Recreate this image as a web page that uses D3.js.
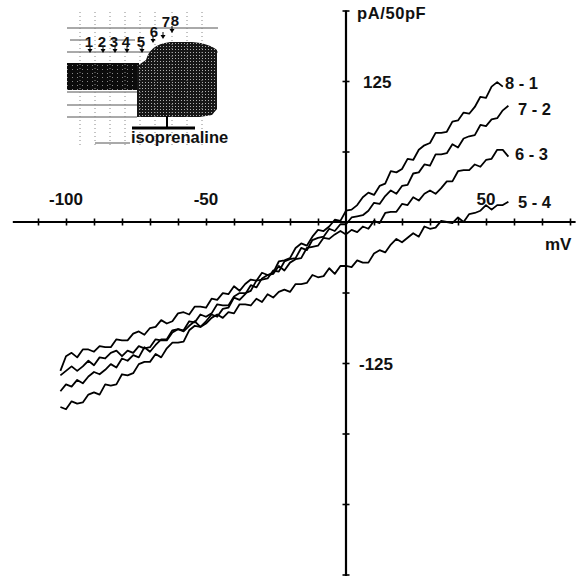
<!DOCTYPE html>
<html><head><meta charset="utf-8">
<script src="https://cdn.jsdelivr.net/npm/d3@7"></script>
<style>
body{margin:0;background:#fff}
svg{display:block}
text{font-family:"Liberation Sans",Arial,Helvetica,sans-serif;font-weight:bold;fill:#111}
</style>
</head><body><div id="chart"></div>
<script>
// ---- data ----
const voltage = [-102,-100,-98,-96,-94,-92,-90,-88,-86,-84,-82,-80,-78,-76,-74,-72,-70,-68,-66,-64,-62,-60,-58,-56,-54,-52,-50,-48,-46,-44,-42,-40,-38,-36,-34,-32,-30,-28,-26,-24,-22,-20,-18,-16,-14,-12,-10,-8,-6,-4,-2,0,2,4,6,8,10,12,14,16,18,20,22,24,26,28,30,32,34,36,38,40,42,44,46,48,50,52,54,56,58];
const trace81 = [-164,-166,-159,-161,-160,-153,-151,-153,-144,-145,-144,-135,-136,-134,-126,-124,-124,-117,-120,-112,-107,-107,-106,-96,-92,-93,-88,-82,-84,-77,-76,-67,-69,-64,-56,-58,-50,-47,-45,-35,-34,-32,-23,-19,-21,-13,-7,-8,-4,2,1,10,11,15,22,26,24,32,34,45,44,47,56,55,64,68,70,79,79,80,89,90,97,96,102,111,110,120,124,120,null];
const trace72 = [-150,-144,-146,-140,-143,-137,-133,-135,-131,-126,-129,-121,-123,-118,-120,-111,-115,-109,-104,-104,-96,-95,-96,-88,-89,-82,-84,-81,-73,-74,-74,-66,-63,-63,-61,-52,-51,-50,-43,-44,-35,-33,-32,-23,-25,-16,-14,-13,-6,-8,-2,-2,4,5,6,10,17,16,23,28,25,32,33,43,44,51,50,60,60,61,69,66,74,76,77,86,85,91,92,99,103];
const trace63 = [-132,-119,-116,-120,-113,-113,-115,-110,-111,-111,-104,-105,-105,-99,-97,-100,-94,-93,-87,-90,-88,-81,-80,-82,-75,-75,-76,-68,-69,-63,-64,-57,-61,-55,-51,-52,-45,-47,-46,-39,-43,-36,-33,-32,-23,-22,-21,-14,-15,-11,-8,-11,-7,-9,-4,-6,1,-1,8,9,9,16,15,22,19,25,28,25,30,36,36,45,46,46,51,49,55,56,64,64,58];
const trace54 = [-136,-132,-128,-132,-128,-123,-127,-120,-121,-116,-114,-119,-114,-116,-110,-112,-111,-104,-105,-105,-98,-95,-97,-92,-88,-93,-90,-85,-82,-85,-80,-81,-73,-73,-74,-68,-71,-64,-67,-62,-60,-62,-55,-55,-54,-47,-49,-48,-41,-46,-39,-39,-40,-34,-36,-36,-28,-25,-27,-20,-15,-18,-14,-10,-13,-4,-6,-5,1,0,-1,4,0,7,8,10,15,11,15,15,18];
const seriesNames = ["8 - 1","7 - 2","6 - 3","5 - 4"];
const xTickValues = [-110,-100,-90,-80,-70,-60,-50,-40,-30,-20,-10,10,20,30,40,50,60,70,80];
const xTickLabels = [-100,-50,50];
const yTickValues = [187.5,125,62.5,-62.5,-125,-187.5,-250,-312.5];
const yTickLabels = [125,-125];
const insetLabels = ["1","2","3","4","5","6","7","8"];
const stimulusLabel = "isoprenaline";
const xTitle = "mV", yTitle = "pA/50pF";

// ---- chart ----
const W = 583, H = 576;
const svg = d3.select("#chart").append("svg").attr("width", W).attr("height", H);
const x = d3.scaleLinear().domain([-120, 80]).range([10, 570]);
const y = d3.scaleLinear().domain([-312.5, 187.5]).range([574.5, 10.5]);

// inset (recording thumbnail)
const defs = svg.append("defs");
const p1 = defs.append("pattern").attr("id","mesh").attr("width",3).attr("height",3).attr("patternUnits","userSpaceOnUse");
p1.append("rect").attr("width",3).attr("height",3).attr("fill","#161616");
p1.append("rect").attr("x",1).attr("y",1).attr("width",1).attr("height",1).attr("fill","#b0b0b0");
const p2 = defs.append("pattern").attr("id","mesh2").attr("width",5).attr("height",4).attr("patternUnits","userSpaceOnUse");
p2.append("rect").attr("width",5).attr("height",4).attr("fill","#0c0c0c");
p2.append("rect").attr("x",2).attr("y",1).attr("width",1).attr("height",1).attr("fill","#888");

const inset = svg.append("g");
const hl = [[28,67,218],[40,70,88],[40,112,135],[52,67,218],[92,67,137],[105,67,137],[117,67,137],[143,95,130]];
hl.forEach(d => inset.append("line").attr("x1",d[1]).attr("x2",d[2]).attr("y1",d[0]).attr("y2",d[0])
  .attr("stroke","#555").attr("stroke-width",1));
inset.append("rect").attr("x",67).attr("y",63).attr("width",72).attr("height",27).attr("fill","url(#mesh2)");
inset.append("path").attr("d","M137,66 L146,60 C149,50 155,44 170,42 L192,42 C205,43 212,46 217,50 L217,109 L212,115 L200,117 L137,117 Z")
  .attr("fill","url(#mesh)");
[80,95,110,125,140,155,172,187,202].forEach(v => inset.append("line").attr("x1",v).attr("x2",v).attr("y1",12).attr("y2",148)
  .attr("stroke","#888").attr("stroke-width",1).attr("stroke-dasharray","1,3"));
const mk = [[90,52],[103,52],[115,52],[127,52],[142,52],[153,42],[163,38],[172,32]];
mk.forEach(d => {
  inset.append("line").attr("x1",d[0]).attr("x2",d[0]).attr("y1",d[1]-6).attr("y2",d[1]-2).attr("stroke","#000").attr("stroke-width",1);
  inset.append("path").attr("d",`M${d[0]-2.5},${d[1]-3} L${d[0]+2.5},${d[1]-3} L${d[0]},${d[1]+1} Z`).attr("fill","#000");
});
const lp = [[89,47],[102,47],[114,47],[126,47],[141,47],[154,37],[166,27],[175,26]];
insetLabels.forEach((t,i) => inset.append("text").attr("x",lp[i][0]).attr("y",lp[i][1]).attr("text-anchor","middle")
  .attr("font-size",15).text(t));
inset.append("rect").attr("x",132).attr("y",126.5).attr("width",63).attr("height",3).attr("fill","#000");
inset.append("rect").attr("x",166).attr("y",116).attr("width",2).attr("height",12).attr("fill","#000");
inset.append("text").attr("x",131).attr("y",143).attr("font-size",16.5).text(stimulusLabel);

// axes lines
svg.append("line").attr("x1",x(-119)).attr("x2",x(82)).attr("y1",y(0)).attr("y2",y(0))
  .attr("stroke","#000").attr("stroke-width",2);
svg.append("line").attr("x1",x(0)).attr("x2",x(0)).attr("y1",y(187.5)).attr("y2",576)
  .attr("stroke","#000").attr("stroke-width",2.2);

// ticks via d3 axes
const gx = svg.append("g").attr("transform",`translate(0,${y(0)-3.5})`)
  .call(d3.axisBottom(x).tickValues(xTickValues).tickSizeInner(7).tickSizeOuter(0).tickFormat(""));
gx.select(".domain").remove();
gx.selectAll(".tick line").attr("stroke","#000").attr("stroke-width",1.6);
const gy = svg.append("g").attr("transform",`translate(${x(0)-3.5},0)`)
  .call(d3.axisRight(y).tickValues(yTickValues).tickSizeInner(7).tickSizeOuter(0).tickFormat(""));
gy.select(".domain").remove();
gy.selectAll(".tick line").attr("stroke","#000").attr("stroke-width",1.6);

// tick labels
xTickLabels.forEach(v => svg.append("text").attr("x",x(v)).attr("y",y(0)-17).attr("text-anchor","middle")
  .attr("font-size",17).text(v));
yTickLabels.forEach(v => svg.append("text").attr("x",x(0)+(v<0?13:17)).attr("y",y(v)+6.5)
  .attr("font-size",17).text(v));
svg.append("text").attr("x",357).attr("y",19).attr("font-size",16.5).attr("letter-spacing",0.6).text(yTitle);
svg.append("text").attr("x",545).attr("y",250).attr("font-size",17).text(xTitle);

// traces
const series = [trace81, trace72, trace63, trace54];
const line = d3.line().defined(d => d[1] !== null).x(d => x(d[0])).y(d => y(d[1]));
series.forEach(s => svg.append("path").datum(voltage.map((v,i) => [v, s[i]]))
  .attr("d", line).attr("fill","none").attr("stroke","#000").attr("stroke-width",1.8).attr("stroke-linejoin","round"));

// series labels
const labPos = [[505,89],[518,115],[515,160],[518,208]];
seriesNames.forEach((t,i) => svg.append("text").attr("x",labPos[i][0]).attr("y",labPos[i][1])
  .attr("font-size",16.5).attr("xml:space","preserve").style("white-space","pre").text(t));
</script>
</body></html>
